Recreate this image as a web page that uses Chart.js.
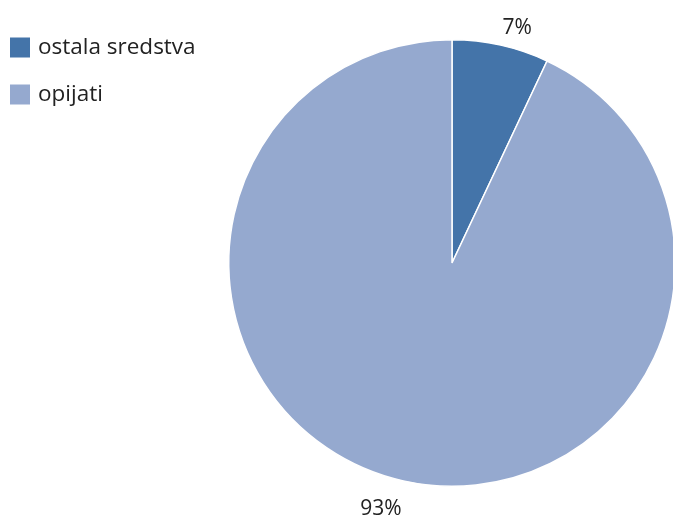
<!DOCTYPE html>
<html>
<head>
<meta charset="utf-8">
<script src="https://cdn.jsdelivr.net/npm/chart.js"></script>
<style>
  html, body { margin: 0; padding: 0; background: #fff; }
  #wrap { width: 673px; height: 518px; overflow: hidden; }
</style>
</head>
<body>
<div id="wrap"><canvas id="chart" width="700" height="518"></canvas></div>
<script>
const categories = ["ostala sredstva", "opijati"];
const values = [7, 93];
const colors = ["#4474A9", "#95A9CF"];
const FONT = "'Open Sans', sans-serif";

// legend top-left + percentage labels outside the slices
const drawExtras = {
  id: "drawExtras",
  afterDraw(chart) {
    const ctx = chart.ctx;
    ctx.save();
    ctx.font = "22.5px " + FONT;
    ctx.textBaseline = "middle";
    categories.forEach((c, i) => {
      const y = 47.5 + i * 47;
      ctx.fillStyle = colors[i];
      ctx.fillRect(10, y - 10, 20, 20);
      ctx.fillStyle = "#222";
      ctx.textAlign = "left";
      ctx.fillText(c, 38, y);
    });

    // outside end: label box corner sits on a point just past the rim
    const total = values.reduce((a, b) => a + b, 0);
    const meta = chart.getDatasetMeta(0);
    ctx.font = "21px " + FONT;
    ctx.fillStyle = "#222";
    ctx.textAlign = "center";
    ctx.textBaseline = "middle";
    meta.data.forEach((arc, i) => {
      const txt = Math.round(values[i] / total * 100) + "%";
      const w = ctx.measureText(txt).width;
      const mid = (arc.startAngle + arc.endAngle) / 2;
      const below = Math.sin(mid) > 0;
      const h = below ? 34 : 24;
      const r = arc.outerRadius + 8;
      const px = arc.x + Math.cos(mid) * r;
      const py = arc.y + Math.sin(mid) * r;
      const x = px + Math.sign(Math.cos(mid)) * w / 2;
      const y = py + (below ? 1 : -1) * h / 2 + 3;
      ctx.fillText(txt, x, y);
    });
    ctx.restore();
  }
};

new Chart(document.getElementById("chart"), {
  type: "pie",
  data: {
    labels: categories,
    datasets: [{
      data: values,
      backgroundColor: colors,
      borderColor: "#ffffff",
      borderWidth: 1.5
    }]
  },
  options: {
    responsive: false,
    animation: false,
    layout: { padding: { left: 228, right: 24, top: 39, bottom: 31 } },
    plugins: { legend: { display: false }, tooltip: { enabled: false } }
  },
  plugins: [drawExtras]
});
</script>
</body>
</html>
